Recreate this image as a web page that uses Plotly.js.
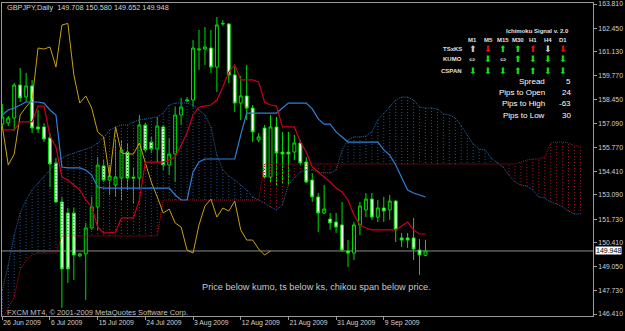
<!DOCTYPE html>
<html><head><meta charset="utf-8">
<script src="https://cdn.plot.ly/plotly-3.0.1.min.js"></script>
<style>html,body{margin:0;padding:0;background:#000;}#chart{width:625px;height:331px;}</style>
</head><body><div id="chart"></div>
<script>
// ---- Candles (bar index 0 = 26 Jun 2009) ----
const openP  = [157.07,157.13,157.41,159.26,158.59,159.21,156.91,156.91,156.29,154.89,152.70,152.08,152.08,149.67,149.78,151.24,152.42,154.72,153.93,153.65,154.04,155.50,154.10,154.04,157.02,156.06,155.67,156.91,154.77,155.39,157.58,158.37,158.42,161.23,161.28,161.34,160.27,162.69,162.69,159.83,158.25,158.65,157.97,156.18,156.85,154.10,156.91,155.50,155.50,155.50,156.01,154.94,153.93,152.98,152.08,151.74,151.57,151.41,149.95,149.83,151.41,152.25,152.86,151.85,152.36,152.25,152.75,150.68,150.68,150.68,150.00,149.708];
const highP  = [158.20,157.52,159.38,160.22,159.94,159.55,157.86,157.13,156.57,155.17,152.98,152.36,152.36,149.83,151.52,152.98,155.22,155.05,154.77,156.18,156.18,156.01,154.61,157.58,157.13,156.35,157.47,157.02,156.29,158.03,158.54,158.59,161.79,162.35,162.52,162.35,163.08,162.91,162.74,160.27,159.77,160.39,158.14,156.57,157.02,157.58,157.47,156.63,156.63,156.46,156.18,155.22,154.32,153.20,153.65,152.08,152.08,152.70,150.56,151.57,152.70,153.20,153.20,152.81,152.98,153.09,152.81,150.96,150.96,151.80,150.62,150.580];
const lowP   = [156.68,156.96,156.68,158.31,158.31,156.57,156.57,156.06,153.54,152.64,146.75,148.15,148.32,149.61,147.20,151.13,151.13,153.82,153.09,152.98,152.81,153.37,152.64,153.48,155.50,155.45,154.89,154.49,154.21,153.82,157.02,158.31,158.03,160.11,160.39,159.94,158.87,162.58,159.38,157.75,157.30,157.30,156.06,156.06,154.04,153.82,153.65,153.76,153.65,155.05,154.77,153.76,152.70,151.01,152.02,151.13,150.96,149.89,149.05,149.44,150.84,151.85,151.69,151.57,151.57,151.69,150.45,150.17,150.11,149.44,148.60,149.652];
const closeP = [157.47,157.41,159.26,158.54,159.21,156.85,156.79,156.23,154.83,152.70,148.94,148.94,149.72,149.78,151.24,152.42,154.77,153.93,154.16,154.10,155.62,154.04,154.04,157.02,155.62,155.67,156.96,154.77,155.39,157.58,158.03,158.42,161.34,161.28,161.40,160.27,162.63,162.72,159.83,158.25,158.65,157.97,156.63,156.35,154.10,156.91,155.45,155.39,155.39,156.01,154.89,153.82,152.98,152.08,152.30,151.52,151.29,150.00,149.83,151.41,152.47,152.86,151.85,152.36,152.19,152.75,151.13,150.56,150.56,150.06,149.72,149.948];

// ---- Ichimoku lines ----
const tenkan = [156.74,156.74,156.74,157.19,157.19,157.19,158.08,158.08,156.40,155.78,154.10,153.93,153.65,153.37,152.81,152.42,151.29,150.96,150.96,151.01,151.80,151.80,151.80,152.81,154.94,154.94,154.94,154.94,155.05,155.22,155.90,156.57,157.58,158.03,158.08,158.14,158.42,159.15,159.99,160.39,159.55,159.55,159.55,159.43,158.31,158.14,158.08,156.91,156.91,156.91,156.06,155.50,154.66,154.38,154.10,153.82,153.48,153.26,152.81,151.97,151.41,151.24,151.13,151.13,151.13,151.13,151.13,151.35,151.57,151.13,150.90,150.90];
const kijun  = [157.58,157.86,157.97,158.14,158.31,158.31,158.31,158.25,157.86,157.58,154.66,154.61,154.61,154.61,154.49,154.21,153.54,153.48,153.48,153.48,153.48,153.48,153.48,153.48,153.48,153.48,153.48,153.48,153.48,153.09,152.81,152.81,154.38,154.94,155.11,155.11,155.11,155.11,155.11,155.11,156.46,157.69,157.69,157.69,157.69,157.69,157.69,157.97,158.25,158.25,158.25,158.25,157.92,157.36,157.07,157.07,156.63,156.35,156.06,156.06,156.06,156.06,156.06,156.06,155.62,155.33,154.77,154.10,153.37,153.20,153.09,152.98];
const chikou = [156.96,154.77,155.39,157.58,158.03,158.42,161.34,161.28,161.40,160.27,162.63,162.72,159.83,158.25,158.65,157.97,156.63,156.35,154.10,156.91,155.45,155.39,155.39,156.01,154.89,153.82,152.98,152.08,152.30,151.52,151.29,150.00,149.83,151.41,152.47,152.86,151.85,152.36,152.19,152.75,151.13,150.56,150.56,150.06,149.72,149.948];
const spanA = [147.76,149.16,150.84,152.08,152.81,153.37,153.76,154.10,154.49,154.89,155.17,155.33,155.45,155.56,155.67,155.78,156.01,156.29,156.74,156.91,157.02,157.02,157.19,157.30,157.36,157.41,157.47,157.69,158.14,158.25,158.25,158.25,158.14,157.86,157.58,156.91,155.33,154.49,154.16,153.93,153.65,153.37,152.98,152.81,152.64,152.42,152.25,152.53,153.65,154.04,154.38,154.49,154.49,154.38,154.33,154.33,154.49,155.62,156.18,156.35,156.35,156.40,156.63,157.30,157.69,158.08,158.42,158.59,158.59,158.42,158.03,157.97,157.97,157.92,157.64,157.58,157.41,156.96,156.46,155.95,155.67,155.62,155.17,154.94,154.66,154.21,153.82,153.65,153.59,153.37,152.98,152.92,152.70,152.58,152.42,152.19,152.02,152.02];
const spanB = [146.19,146.75,147.36,148.88,149.44,149.72,149.83,149.83,149.83,149.83,150.79,150.79,150.79,150.79,150.79,150.79,150.79,150.79,150.79,150.79,150.79,150.79,150.79,150.79,150.79,150.79,150.79,152.81,152.81,152.81,152.81,152.81,152.81,152.81,152.81,152.81,152.81,152.81,152.81,152.81,152.81,152.81,152.81,152.81,154.83,154.83,154.83,154.83,154.83,154.83,154.83,154.83,154.83,154.83,154.83,154.83,154.83,154.83,154.83,154.83,154.83,154.83,154.83,154.83,154.83,154.83,154.83,154.83,154.83,154.83,154.83,154.83,154.83,154.83,154.83,154.83,154.83,154.83,154.83,154.83,154.83,154.83,154.83,154.83,154.83,154.83,154.83,154.94,155.05,155.11,155.11,155.22,156.01,156.06,156.06,156.01,155.84,155.84];

// ---- Axis ticks ----
const xTickIdx  = [0,8,16,24,32,40,48,56,64];
const xTickText = ["26 Jun 2009","6 Jul 2009","15 Jul 2009","24 Jul 2009","3 Aug 2009","12 Aug 2009","21 Aug 2009","31 Aug 2009","9 Sep 2009"];
const yTickVals = [163.810,162.450,161.130,159.770,158.450,157.090,155.770,154.410,153.090,151.730,150.410,149.050,147.730,146.410];
const lastPrice = 149.948;

// ---- Signal panel ----
const timeframes = ["M1","M5","M15","M30","H1","H4","D1"];
const signalRows = ["TSxKS","KUMO","CSPAN"];
const sigTSKS  = ["UW","DR","UG","UG","UR","DW","DR"];
const sigKUMO  = ["NW","DG","NW","UG","DG","DG","DG"];
const sigCSPAN = ["DG","DG","DG","UG","UG","DG","DG"];
const statLabels = ["Spread","Pips to Open","Pips to High","Pips to Low"];
const statValues = ["5","24","-63","30"];

// ------------------------------------------------
const PL=2, PR=593, PT=3, PB=316;
const px = x => (x-PL)/(PR-PL);
const py = y => (PB-y)/(PB-PT);
const yTop = 163.810 + 1/17.816, yBot = 146.410 - 2/17.816;

const idx = openP.map((_,i)=>i);
const idxFuture = spanA.map((_,i)=>i);
const idxCh = chikou.map((_,i)=>i);

const hbx=[],hby=[],hrx=[],hry=[];
spanA.forEach((a,i)=>{
  const b=spanB[i];
  if(a>=b){hbx.push(i,i,null);hby.push(a,b,null);}
  else{hrx.push(i,i,null);hry.push(a,b,null);}
});

const blueH='#22548f', redH='#a0101c';
const blueC='#2a64a6', redC='#b0101e';
const traces=[
 {type:'scatter',mode:'lines',x:hbx,y:hby,line:{color:blueH,width:1,dash:'1px,2px'},connectgaps:false,hoverinfo:'skip'},
 {type:'scatter',mode:'lines',x:hrx,y:hry,line:{color:redH,width:1,dash:'1px,2px'},connectgaps:false,hoverinfo:'skip'},
 {type:'scatter',mode:'lines',x:idxFuture,y:spanA,line:{color:blueC,width:1,dash:'1px,1px'},hoverinfo:'skip'},
 {type:'scatter',mode:'lines',x:idxFuture,y:spanB,line:{color:redC,width:1,dash:'1px,1px'},hoverinfo:'skip'},
 {type:'scatter',mode:'lines',x:idxCh,y:chikou,line:{color:'#c9a012',width:1},hoverinfo:'skip'},
 {type:'scatter',mode:'lines',x:idx,y:kijun,line:{color:'#2f80d6',width:1.2},hoverinfo:'skip'},
 {type:'scatter',mode:'lines',x:idx,y:tenkan,line:{color:'#c8001e',width:1.2},hoverinfo:'skip'},
 {type:'candlestick',x:idx,open:openP,high:highP,low:lowP,close:closeP,whiskerwidth:0,
  increasing:{line:{color:'#00e000',width:1},fillcolor:'#000000'},
  decreasing:{line:{color:'#00e000',width:1},fillcolor:'#ffffff'},hoverinfo:'skip'}
];

const ann=[];
const lbl='#d0d0d0';
ann.push({xref:'paper',yref:'paper',x:px(5),y:py(7),xanchor:'left',yanchor:'middle',showarrow:false,
  text:'GBPJPY,Daily  149.708 150.580 149.652 149.948',font:{family:'Liberation Sans, Arial',size:7.3,color:lbl}});
ann.push({xref:'paper',yref:'paper',x:px(5),y:py(312),xanchor:'left',yanchor:'middle',showarrow:false,
  text:'FXCM MT4, © 2001-2009 MetaQuotes Software Corp.',font:{family:'Liberation Sans, Arial',size:7.5,color:'#c0c0c0'}});
ann.push({xref:'paper',yref:'paper',x:px(316.5),y:py(287),xanchor:'center',yanchor:'middle',showarrow:false,
  text:'Price below kumo, ts below ks, chikou span below price.',font:{family:'Liberation Sans, Arial',size:9.2,color:'#c8c8c8'}});
// last price box
ann.push({xref:'paper',yref:'y',x:px(595),y:lastPrice,xanchor:'left',yanchor:'middle',showarrow:false,
  text:'149.948',bgcolor:'#ffffff',borderpad:0,font:{family:'Liberation Sans, Arial',size:7,color:'#000'}});
// signal panel
ann.push({xref:'paper',yref:'paper',x:px(537),y:py(31),xanchor:'center',yanchor:'middle',showarrow:false,
  text:'<b>Ichimoku Signal v. 2.0</b>',font:{family:'Liberation Sans, Arial',size:6,color:'#e0e0e0'}});
const colX=[473,488,503,518,533,548,563];
timeframes.forEach((t,k)=>ann.push({xref:'paper',yref:'paper',x:px(colX[k]),y:py(39.5),xanchor:'center',yanchor:'middle',showarrow:false,
  text:'<b>'+t+'</b>',font:{family:'Liberation Sans, Arial',size:6,color:'#e0e0e0'}}));
const rowY=[49,59.5,71];
signalRows.forEach((r,k)=>ann.push({xref:'paper',yref:'paper',x:px(464),y:py(rowY[k]),xanchor:'right',yanchor:'middle',showarrow:false,
  text:'<b>'+r+'</b>',font:{family:'Liberation Sans, Arial',size:6,color:'#e0e0e0'}}));
const colMap={W:'#c8c8c8',R:'#e01010',G:'#10e010'};
const symMap={U:'⬆',D:'⬇',N:'⇔'};
[sigTSKS,sigKUMO,sigCSPAN].forEach((row,r)=>row.forEach((s,k)=>ann.push({xref:'paper',yref:'paper',x:px(colX[k]),y:py(rowY[r]),
  xanchor:'center',yanchor:'middle',showarrow:false,text:symMap[s[0]],
  font:{family:'DejaVu Sans',size:s[0]==='N'?8:9,color:colMap[s[1]]}})));
const statY=[82,93,104,115];
statLabels.forEach((s,k)=>{
  ann.push({xref:'paper',yref:'paper',x:px(546.5),y:py(statY[k]),xanchor:'right',yanchor:'middle',showarrow:false,
    text:s,font:{family:'Liberation Sans, Arial',size:8,color:'#ffffff'}});
  ann.push({xref:'paper',yref:'paper',x:px(572.5),y:py(statY[k]),xanchor:'right',yanchor:'middle',showarrow:false,
    text:statValues[k],font:{family:'Liberation Sans, Arial',size:8,color:'#ffffff'}});
});

const layout={
  width:625,height:331,margin:{l:PL,r:625-PR,t:PT,b:331-PB,pad:0},
  paper_bgcolor:'#000',plot_bgcolor:'#000',showlegend:false,hovermode:false,
  xaxis:{range:[-0.05,99.1],showgrid:false,zeroline:false,showline:true,mirror:true,linecolor:'#9a9a9a',linewidth:1,
    tickmode:'array',tickvals:xTickIdx,ticktext:xTickText,ticks:'outside',ticklen:3,tickcolor:'#9a9a9a',
    ticklabelposition:'outside right',tickfont:{family:'Liberation Sans, Arial',size:6.8,color:lbl},
    rangeslider:{visible:false},fixedrange:true},
  yaxis:{range:[yBot,yTop],side:'right',showgrid:false,zeroline:false,showline:true,mirror:true,linecolor:'#9a9a9a',linewidth:1,
    tickmode:'array',tickvals:yTickVals,ticktext:yTickVals.map(v=>v.toFixed(3)),ticks:'outside',ticklen:3,tickcolor:'#9a9a9a',
    tickfont:{family:'Liberation Sans, Arial',size:6.8,color:lbl},fixedrange:true},
  shapes:[{type:'line',xref:'paper',yref:'y',x0:0,x1:1,y0:lastPrice,y1:lastPrice,line:{color:'#8c8c8c',width:1},layer:'below'}],
  annotations:ann
};
Plotly.newPlot('chart',traces,layout,{staticPlot:true,displayModeBar:false});
</script></body></html>
